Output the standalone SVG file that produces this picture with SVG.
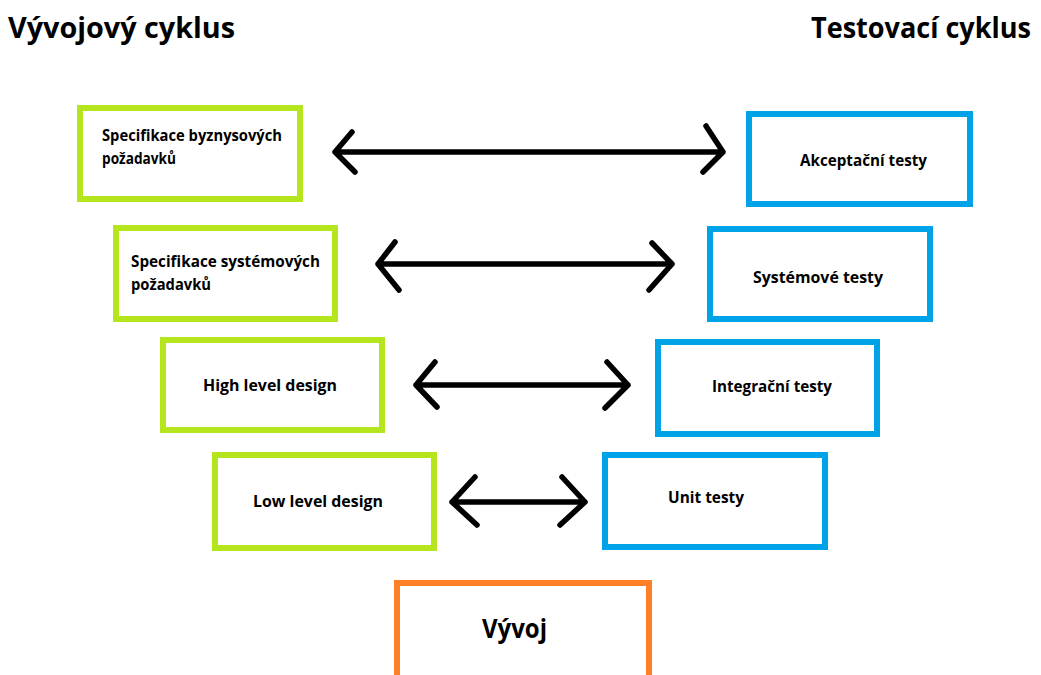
<svg xmlns="http://www.w3.org/2000/svg" width="1041" height="675" viewBox="0 0 1041 675">
<style>
.g{fill:#fff;stroke:#B5E61D;stroke-width:6}
.b{fill:#fff;stroke:#00A2E8;stroke-width:6}
.o{fill:#fff;stroke:#FF7F27;stroke-width:6}
text{font-family:"Open Sans","Noto Sans","Liberation Sans",sans-serif;font-weight:700;fill:#000}
.t{font-size:16px}
.h{font-size:29px}
.a{fill:none;stroke:#000;stroke-width:5.5;stroke-linecap:round;stroke-linejoin:round}
</style>
<rect width="1041" height="675" fill="#fff"/>
<text class="h" x="8" y="38" textLength="227" lengthAdjust="spacingAndGlyphs">Vývojový cyklus</text>
<text class="h" x="811" y="38" textLength="220" lengthAdjust="spacingAndGlyphs">Testovací cyklus</text>
<g id="spec-byz">
<rect class="g" x="80" y="108" width="220" height="91"/>
<text class="t" x="102" y="141" textLength="180" lengthAdjust="spacingAndGlyphs">Specifikace byznysových</text>
<text class="t" x="102" y="164" textLength="74" lengthAdjust="spacingAndGlyphs">požadavků</text>
</g>
<g id="spec-sys">
<rect class="g" x="116" y="228" width="219" height="91"/>
<text class="t" x="131" y="267" textLength="189" lengthAdjust="spacingAndGlyphs">Specifikace systémových</text>
<text class="t" x="131" y="290" textLength="80" lengthAdjust="spacingAndGlyphs">požadavků</text>
</g>
<g id="hld">
<rect class="g" x="163" y="340" width="219" height="90"/>
<text class="t" x="203" y="391" textLength="134" lengthAdjust="spacingAndGlyphs">High level design</text>
</g>
<g id="lld">
<rect class="g" x="215" y="455" width="219" height="93"/>
<text class="t" x="253" y="507" textLength="130" lengthAdjust="spacingAndGlyphs">Low level design</text>
</g>
<g id="akc">
<rect class="b" x="749" y="114" width="221" height="90"/>
<text class="t" x="800" y="166" textLength="127" lengthAdjust="spacingAndGlyphs">Akceptační testy</text>
</g>
<g id="sys">
<rect class="b" x="710" y="229" width="220" height="90"/>
<text class="t" x="753" y="283" textLength="130" lengthAdjust="spacingAndGlyphs">Systémové testy</text>
</g>
<g id="int">
<rect class="b" x="658" y="342" width="219" height="92"/>
<text class="t" x="712" y="392" textLength="120" lengthAdjust="spacingAndGlyphs">Integrační testy</text>
</g>
<g id="unit">
<rect class="b" x="605" y="455" width="220" height="92"/>
<text class="t" x="668" y="503" textLength="76" lengthAdjust="spacingAndGlyphs">Unit testy</text>
</g>
<g id="vyvoj">
<rect class="o" x="397" y="583" width="252" height="120"/>
<text x="482" y="638" font-size="27" textLength="65" lengthAdjust="spacingAndGlyphs">Vývoj</text>
</g>
<g id="connectors">
<path class="a" d="M335 152H723M352 132L335 152L355 172M706 126L723 152L703 172"/>
<path class="a" d="M378 264H672M395 242L378 264L399 290M652 243L672 264L649 290"/>
<path class="a" d="M416 385H628M435 362L416 385L437 407M607 362L628 385L605 408"/>
<path class="a" d="M452 502H585M475 477L452 502L477 525M562 477L585 502L560 525"/>
</g>
</svg>
